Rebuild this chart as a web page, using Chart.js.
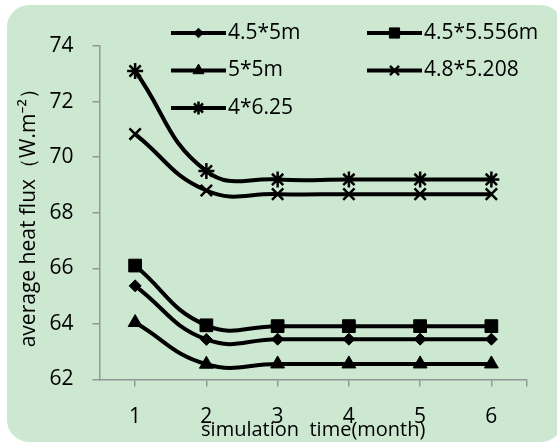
<!DOCTYPE html>
<html>
<head>
<meta charset="utf-8">
<script src="https://cdn.jsdelivr.net/npm/chart.js"></script>
<style>
  html, body { margin: 0; padding: 0; background: #fff; }
  #wrap { width: 557px; height: 443px; }
</style>
</head>
<body>
<div id="wrap"><canvas id="chart" width="557" height="443"></canvas></div>
<script>
// months on the x axis
const months = [1, 2, 3, 4, 5, 6];

// average heat flux per configuration (W.m-2)
const flux45x5 = [65.37, 63.44, 63.45, 63.45, 63.45, 63.45];
const flux45x5556 = [66.1, 63.95, 63.92, 63.92, 63.92, 63.92];
const flux5x5 = [64.05, 62.55, 62.56, 62.56, 62.56, 62.56];
const flux48x5208 = [70.83, 68.8, 68.67, 68.67, 68.67, 68.67];
const flux4x625 = [73.1, 69.5, 69.2, 69.2, 69.2, 69.2];

const seriesLabels = ['4.5*5m', '4.5*5.556m', '5*5m', '4.8*5.208', '4*6.25'];
const yTicks = [62, 64, 66, 68, 70, 72, 74];

const panelColour = 'rgb(205,232,209)';
const axisColour = 'rgb(150,150,150)';
const fontFamily = '"Open Sans", "Noto Sans", sans-serif';

function toPoints(values) {
    return months.map((m, i) => ({ x: m, y: values[i] }));
}

function makeDataset(label, values, style, radius, border) {
    return {
        label: label,
        data: toPoints(values),
        borderColor: '#000',
        backgroundColor: '#000',
        borderWidth: 4,
        tension: 0.45,
        pointStyle: style,
        pointRadius: radius,
        pointHoverRadius: radius,
        pointBackgroundColor: '#000',
        pointBorderColor: '#000',
        pointBorderWidth: border
    };
}

// green rounded panel behind everything
const panelPlugin = {
    id: 'panel',
    beforeDraw(chart) {
        const ctx = chart.ctx;
        ctx.save();
        ctx.fillStyle = panelColour;
        ctx.beginPath();
        ctx.roundRect(7, 5, 556, 437, 22);
        ctx.fill();
        ctx.restore();
    }
};

// legend drawn as line + marker, two columns, over the plot
const lineLegendPlugin = {
    id: 'lineLegend',
    afterDraw(chart) {
        const ctx = chart.ctx;
        chart.data.datasets.forEach((ds, i) => {
            const x0 = 171 + (i % 2) * 196;
            const y = 33 + Math.floor(i / 2) * 37.5;
            ctx.save();
            ctx.strokeStyle = '#000';
            ctx.lineWidth = 4;
            ctx.beginPath();
            ctx.moveTo(x0, y);
            ctx.lineTo(x0 + 55, y);
            ctx.stroke();
            ctx.fillStyle = '#000';
            ctx.lineWidth = ds.pointBorderWidth;
            if (Chart.helpers && Chart.helpers.drawPoint) {
                Chart.helpers.drawPoint(ctx, {
                    pointStyle: ds.pointStyle,
                    radius: ds.pointRadius * 0.8,
                    rotation: 0,
                    borderWidth: ds.pointBorderWidth
                }, x0 + 27.5, y);
            }
            ctx.font = '21px ' + fontFamily;
            ctx.textBaseline = 'middle';
            ctx.textAlign = 'left';
            ctx.fillText(ds.label, x0 + 57, y);
            ctx.restore();
        });
    }
};

const ctx = document.getElementById('chart');

const chart = new Chart(ctx, {
    type: 'line',
    data: {
        datasets: [
            makeDataset(seriesLabels[0], flux45x5, 'rectRot', 6, 1),
            makeDataset(seriesLabels[1], flux45x5556, 'rect', 9, 1),
            makeDataset(seriesLabels[2], flux5x5, 'triangle', 8, 1),
            makeDataset(seriesLabels[3], flux48x5208, 'crossRot', 8, 2.5),
            makeDataset(seriesLabels[4], flux4x625, 'star', 8, 2.5)
        ]
    },
    options: {
        responsive: false,
        animation: false,
        layout: { padding: { left: 0, top: 46, right: 30, bottom: 0 } },
        plugins: {
            legend: { display: false },
            tooltip: { enabled: false }
        },
        scales: {
            x: {
                type: 'linear',
                min: 0.5,
                max: 6.5,
                afterBuildTicks: scale => {
                    scale.ticks = months.map(m => ({ value: m })).concat([{ value: 6.5 }]);
                },
                afterFit: scale => { scale.height = 63.5; },
                grid: {
                    drawOnChartArea: false,
                    color: axisColour,
                    lineWidth: 1.5,
                    tickLength: 7
                },
                border: { color: axisColour, width: 1.5 },
                ticks: {
                    color: '#000',
                    padding: 18,
                    maxRotation: 0,
                    autoSkip: false,
                    font: { family: fontFamily, size: 21 },
                    callback: v => (months.includes(v) ? String(v) : '')
                },
                title: {
                    display: true,
                    text: 'simulation  time(month)',
                    color: '#000',
                    padding: { top: 0, bottom: 1 },
                    font: { family: fontFamily, size: 20 }
                }
            },
            y: {
                min: 62,
                max: 74,
                afterBuildTicks: scale => {
                    scale.ticks = yTicks.map(v => ({ value: v }));
                },
                afterFit: scale => { scale.width = 99.5; },
                grid: {
                    drawOnChartArea: false,
                    color: axisColour,
                    lineWidth: 1.5,
                    tickLength: 7
                },
                border: { color: axisColour, width: 1.5 },
                ticks: {
                    color: '#000',
                    padding: 19,
                    font: { family: fontFamily, size: 21 }
                },
                title: {
                    display: true,
                    text: 'average heat flux（W.m⁻²）',
                    color: '#000',
                    padding: { top: 16, bottom: 0 },
                    font: { family: fontFamily, size: 21 }
                }
            }
        }
    },
    plugins: [panelPlugin, lineLegendPlugin]
});
</script>
</body>
</html>
